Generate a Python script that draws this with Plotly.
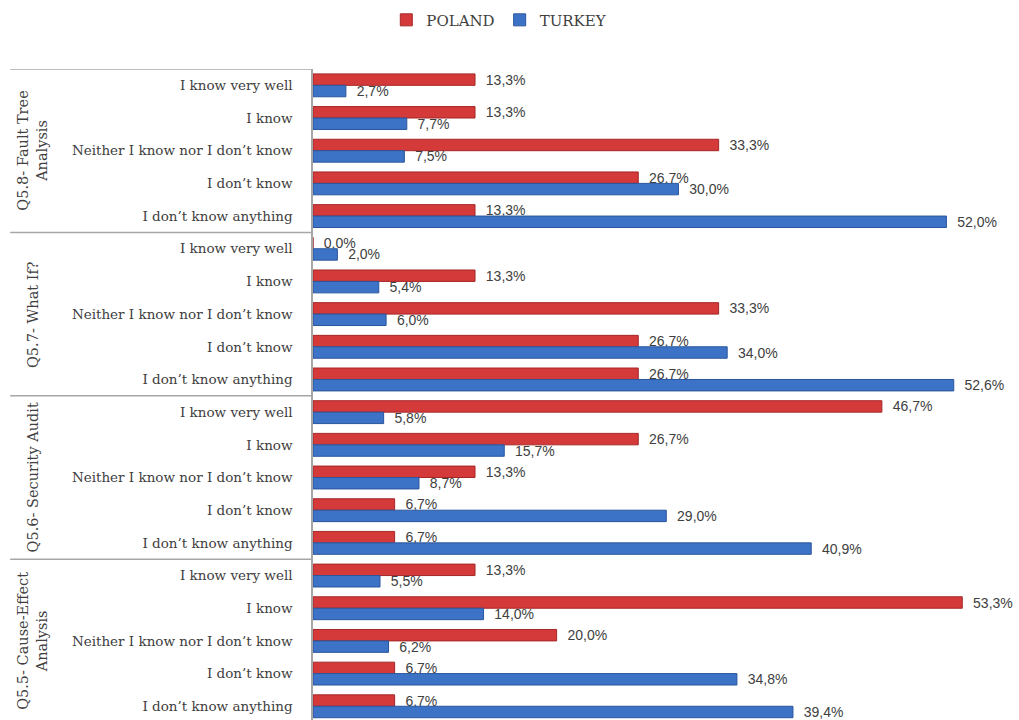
import plotly.graph_objects as go

# Survey answers per method (top to bottom), values in percent
groups = [
    "Q5.8- Fault Tree<br>Analysis",
    "Q5.7- What If?",
    "Q5.6- Security Audit",
    "Q5.5- Cause-Effect<br>Analysis",
]
answers = [
    "I know very well",
    "I know",
    "Neither I know nor I don\u2019t know",
    "I don\u2019t know",
    "I don\u2019t know anything",
]
poland = [
    13.3, 13.3, 33.3, 26.7, 13.3,
    0.0, 13.3, 33.3, 26.7, 26.7,
    46.7, 26.7, 13.3, 6.7, 6.7,
    13.3, 53.3, 20.0, 6.7, 6.7,
]
turkey = [
    2.7, 7.7, 7.5, 30.0, 52.0,
    2.0, 5.4, 6.0, 34.0, 52.6,
    5.8, 15.7, 8.7, 29.0, 40.9,
    5.5, 14.0, 6.2, 34.8, 39.4,
]

# unique category keys, one per (group, answer) row
keys = [f"g{gi}|{a}" for gi in range(len(groups)) for a in answers]
tick_text = [a for _ in groups for a in answers]


def pct(v):
    return f"{v:.1f}".replace(".", ",") + "%"


RED = "#d43a3a"
BLUE = "#3d73c6"
TEXT = "#404040"
SERIF = "DejaVu Serif"
SANS = "Liberation Sans"

fig = go.Figure()
fig.add_trace(go.Bar(
    name="POLAND", y=keys, x=poland, orientation="h",
    marker=dict(color=RED, line=dict(color="#a52727", width=1)),
    text=[pct(v) for v in poland], texttemplate="  %{text}",
    textposition="outside",
    textfont=dict(family=SANS, size=14, color=TEXT),
    cliponaxis=False,
))
fig.add_trace(go.Bar(
    name="TURKEY", y=keys, x=turkey, orientation="h",
    marker=dict(color=BLUE, line=dict(color="#2a559c", width=1)),
    text=[pct(v) for v in turkey], texttemplate="  %{text}",
    textposition="outside",
    textfont=dict(family=SANS, size=14, color=TEXT),
    cliponaxis=False,
))

n = len(keys)
shapes = []
# group separators running across the label column
for gi in range(len(groups)):
    yb = gi * len(answers) - 0.5
    shapes.append(dict(type="line", xref="paper", yref="y",
                       x0=-0.452, x1=0, y0=yb, y1=yb,
                       line=dict(color="#a6a6a6", width=1.5)))

annotations = []
for gi, g in enumerate(groups):
    yc = gi * len(answers) + (len(answers) - 1) / 2
    annotations.append(dict(
        text=g, xref="paper", yref="y", x=-0.418, y=yc,
        textangle=-90, showarrow=False, xanchor="center", yanchor="middle",
        font=dict(family=SERIF, size=14.5, color=TEXT),
    ))

fig.update_layout(
    width=1019, height=720,
    margin=dict(l=313, r=36, t=69, b=0),
    paper_bgcolor="white", plot_bgcolor="white",
    barmode="group", bargap=0.3, bargroupgap=0.0,
    showlegend=True,
    legend=dict(orientation="h", xref="container", yref="container",
                x=0.49, y=0.995, xanchor="center", yanchor="top",
                font=dict(family=SERIF, size=15, color=TEXT),
                itemwidth=30, traceorder="normal"),
    shapes=shapes, annotations=annotations,
)
fig.update_traces(constraintext="none")
fig.update_xaxes(range=[0, 55], showgrid=False, zeroline=False,
                 showline=False, showticklabels=False)
fig.update_yaxes(type="category", categoryorder="array", categoryarray=keys,
                 tickvals=keys, ticktext=tick_text,
                 range=[n - 0.58, -0.5],
                 showgrid=False, zeroline=False,
                 showline=True, linecolor="#a6a6a6", linewidth=1.5,
                 ticks="", ticklabelstandoff=16,
                 tickfont=dict(family=SERIF, size=13.5, color=TEXT))

fig.write_html("out.html")
